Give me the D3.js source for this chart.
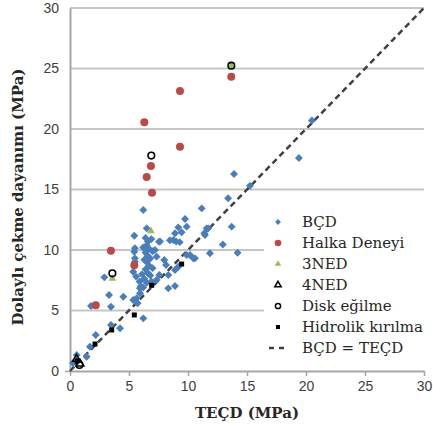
<!DOCTYPE html>
<html>
<head>
<meta charset="utf-8">
<script src="https://cdn.jsdelivr.net/npm/d3@7"></script>
<style>
  body { margin: 0; background: #fff; }
  svg { display: block; }
</style>
</head>
<body>
<div id="chart"></div>
<script>
// values (MPa): [TEÇD, dolaylı]
var bcd = [
  [0.25,0.66],[0.57,1.32],[1.41,1.18],[1.69,2.01],[2.18,2.98],[1.78,5.37],[2.91,7.74],[3.31,6.28],
  [3.47,5.31],[3.47,3.8],[4.24,3.53],[4.52,6.14],[6.21,4.35],[5.36,5.87],[5.73,5.6],[5.65,6.01],
  [5.93,6.42],[5.93,6.83],[5.36,8.2],[5.6,7.8],[5.9,7.4],[6.0,7.0],[5.45,9.86],[5.5,9.31],
  [5.45,11.18],[6.5,11.79],[6.21,13.31],[6.4,11.0],[6.6,10.7],[6.5,10.4],[6.7,10.1],[6.4,9.8],
  [6.6,9.5],[6.8,9.3],[6.5,9.0],[6.7,8.7],[6.4,8.4],[6.6,8.1],[6.8,7.9],[6.3,7.6],[6.5,7.3],
  [6.2,6.9],[6.9,10.9],[7.0,8.5],[6.2,10.2],[6.3,9.2],[7.0,9.9],[6.1,8.0],[6.9,7.4],[7.2,10.0],
  [7.34,9.45],[7.54,10.69],[7.99,9.17],[8.14,8.76],[7.57,7.93],[7.34,7.52],[8.33,7.93],[8.9,8.35],
  [9.18,8.62],[8.33,6.83],[8.9,7.02],[8.76,10.83],[8.47,10.8],[9.0,10.7],[9.3,10.65],[7.63,10.7],
  [8.9,11.38],[9.46,11.46],[9.18,11.87],[9.89,11.93],[9.75,12.56],[9.89,9.59],[10.17,9.59],
  [10.45,9.31],[10.59,9.31],[11.58,11.79],[11.38,11.38],[11.16,13.44],[11.72,11.79],[11.44,11.24],
  [11.86,9.73],[12.95,10.45],[13.7,11.93],[14.2,9.77],[13.4,14.27],[13.9,16.28],[15.25,15.3],
  [19.4,17.6],[20.5,20.7],[5.5,10.14],[5.5,9.03]
];
var halka = [[6.3,20.55],[9.32,23.14],[9.32,18.54],[6.86,16.94],[6.5,16.03],[6.95,14.74],
  [13.67,24.32],[3.47,9.94],[5.45,8.73],[2.18,5.43]];
var ned3 = [[6.86,11.57],[3.59,7.65],[13.67,25.2]];
var ned4 = [[0.55,1.0],[0.85,0.6]];
var disk = [[6.89,17.8],[13.67,25.23],[3.59,8.07],[0.8,0.5]];
var hidrolik = [[9.46,8.84],[6.92,7.08],[5.45,4.63],[3.53,3.39],[2.12,2.23],[0.6,0.85]];
var ticks = [0, 5, 10, 15, 20, 25, 30];
var legendLabels = ["BÇD", "Halka Deneyi", "3NED", "4NED", "Disk eğilme", "Hidrolik kırılma", "BÇD = TEÇD"];

var width = 433, height = 439;
var svg = d3.select("#chart").append("svg")
    .attr("width", width)
    .attr("height", height);

var x = d3.scaleLinear().domain([0, 30]).range([70, 424]);
var y = d3.scaleLinear().domain([0, 30]).range([371, 8]);

// gridlines
svg.append("g")
    .selectAll("line")
    .data(ticks.slice(1))
    .enter().append("line")
    .attr("x1", x(0)).attr("x2", x(30))
    .attr("y1", d => y(d)).attr("y2", d => y(d))
    .attr("stroke", "#c6c6c6")
    .attr("stroke-width", 2);

var xAxis = d3.axisBottom(x).tickValues(ticks).tickSizeInner(5).tickSizeOuter(0).tickPadding(5);
var yAxis = d3.axisLeft(y).tickValues(ticks).tickSizeInner(5).tickSizeOuter(0).tickPadding(6);

var gx = svg.append("g").attr("transform", "translate(0," + y(0) + ")").call(xAxis);
var gy = svg.append("g").attr("transform", "translate(" + x(0) + ",0)").call(yAxis);
[gx, gy].forEach(function(g) {
    g.select(".domain").attr("stroke", "#a6a6a6").attr("stroke-width", 2);
    g.selectAll(".tick line").attr("stroke", "#a6a6a6").attr("stroke-width", 1.5);
    g.selectAll(".tick text")
        .attr("fill", "#404040")
        .style("font-family", "'Liberation Sans', Arial, sans-serif")
        .style("font-size", "14px");
});
gy.selectAll(".tick").filter(d => d != 0).select("line").remove();

// legend background hides the gridlines behind it
svg.append("rect")
    .attr("x", 264).attr("y", 196)
    .attr("width", 169).attr("height", 170)
    .attr("fill", "#fff");

// 1:1 line
svg.append("line")
    .attr("x1", x(0)).attr("y1", y(0))
    .attr("x2", x(30)).attr("y2", y(30))
    .attr("stroke", "#404040")
    .attr("stroke-width", 2.5)
    .attr("stroke-dasharray", "6,4");

var diamond = d3.symbol().type(d3.symbolDiamond2).size(40);
var tri = d3.symbol().type(d3.symbolTriangle).size(26);

svg.append("g").selectAll("path").data(bcd).enter().append("path")
    .attr("d", diamond)
    .attr("transform", d => "translate(" + x(d[0]) + "," + y(d[1]) + ")")
    .attr("fill", "#4a7ebb");

svg.append("g").selectAll("circle").data(halka).enter().append("circle")
    .attr("cx", d => x(d[0])).attr("cy", d => y(d[1]))
    .attr("r", 4)
    .attr("fill", "#b94a48");

svg.append("g").selectAll("path").data(ned3).enter().append("path")
    .attr("d", tri)
    .attr("transform", d => "translate(" + x(d[0]) + "," + y(d[1]) + ")")
    .attr("fill", "#9bbb59");

svg.append("g").selectAll("path").data(ned4).enter().append("path")
    .attr("d", tri)
    .attr("transform", d => "translate(" + x(d[0]) + "," + y(d[1]) + ")")
    .attr("fill", "none")
    .attr("stroke", "#000")
    .attr("stroke-width", 1.5);

svg.append("g").selectAll("circle").data(disk).enter().append("circle")
    .attr("cx", d => x(d[0])).attr("cy", d => y(d[1]))
    .attr("r", 3.3)
    .attr("fill", "none")
    .attr("stroke", "#000")
    .attr("stroke-width", 1.6);

svg.append("g").selectAll("rect").data(hidrolik).enter().append("rect")
    .attr("x", d => x(d[0]) - 2.5).attr("y", d => y(d[1]) - 2.5)
    .attr("width", 5).attr("height", 5)
    .attr("fill", "#000");

// legend
var leg = svg.append("g");
var ly = d3.range(legendLabels.length).map(i => 222 + i * 21);
leg.selectAll("text").data(legendLabels).enter().append("text")
    .attr("x", 302)
    .attr("y", (d, i) => ly[i])
    .attr("dy", "0.35em")
    .attr("fill", "#262626")
    .style("font-family", "'DejaVu Serif', serif")
    .style("font-size", "15px")
    .text(d => d);
var mx = 278;
leg.append("path").attr("d", d3.symbol().type(d3.symbolDiamond2).size(22))
    .attr("transform", "translate(" + mx + "," + ly[0] + ")").attr("fill", "#4a7ebb");
leg.append("circle").attr("cx", mx).attr("cy", ly[1]).attr("r", 3.3).attr("fill", "#b94a48");
leg.append("path").attr("d", d3.symbol().type(d3.symbolTriangle).size(18))
    .attr("transform", "translate(" + mx + "," + ly[2] + ")").attr("fill", "#9bbb59");
leg.append("path").attr("d", d3.symbol().type(d3.symbolTriangle).size(18))
    .attr("transform", "translate(" + mx + "," + ly[3] + ")")
    .attr("fill", "none").attr("stroke", "#000").attr("stroke-width", 1.5);
leg.append("circle").attr("cx", mx).attr("cy", ly[4]).attr("r", 2.6)
    .attr("fill", "none").attr("stroke", "#000").attr("stroke-width", 1.5);
leg.append("rect").attr("x", mx - 2).attr("y", ly[5] - 2).attr("width", 4).attr("height", 4).attr("fill", "#000");
leg.append("line").attr("x1", mx - 9).attr("x2", mx + 6).attr("y1", ly[6]).attr("y2", ly[6])
    .attr("stroke", "#404040").attr("stroke-width", 2.5).attr("stroke-dasharray", "5,5");

// axis titles
svg.append("text")
    .attr("x", 247).attr("y", 418)
    .attr("text-anchor", "middle")
    .style("font-family", "'DejaVu Serif', serif")
    .style("font-weight", "bold")
    .style("font-size", "15px")
    .attr("fill", "#262626")
    .text("TEÇD (MPa)");

svg.append("text")
    .attr("transform", "translate(23,197) rotate(-90)")
    .attr("text-anchor", "middle")
    .style("font-family", "'DejaVu Serif', serif")
    .style("font-weight", "bold")
    .style("font-size", "15px")
    .attr("fill", "#262626")
    .text("Dolaylı çekme dayanımı (MPa)");
</script>
</body>
</html>
